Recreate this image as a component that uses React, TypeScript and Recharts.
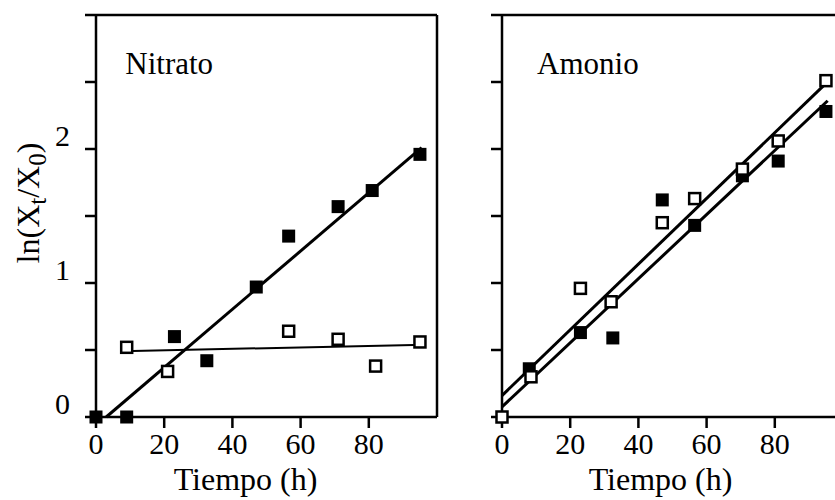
import { ComposedChart, XAxis, YAxis, Line, Scatter, ReferenceLine, ReferenceDot } from 'recharts';

// Nitrato panel
const hoursNitratoFilled = [0, 9, 23, 32.5, 47, 56.5, 71, 81, 95];
const lnNitratoFilled = [0, 0, 0.6, 0.42, 0.97, 1.35, 1.57, 1.69, 1.96];
const hoursNitratoOpen = [9, 21, 56.5, 71, 82, 95];
const lnNitratoOpen = [0.52, 0.34, 0.64, 0.58, 0.38, 0.56];
const fitNitratoFilledX = [3, 95.5];
const fitNitratoFilledY = [0, 2.01];
const fitNitratoOpenX = [7.5, 96.5];
const fitNitratoOpenY = [0.49, 0.54];

// Amonio panel
const hoursAmonioFilled = [8, 23, 32.5, 47, 56.5, 70.5, 81, 95];
const lnAmonioFilled = [0.36, 0.63, 0.59, 1.62, 1.43, 1.8, 1.91, 2.28];
const hoursAmonioOpen = [0, 8.5, 23, 32, 47, 56.5, 70.5, 81, 95];
const lnAmonioOpen = [0, 0.3, 0.96, 0.86, 1.45, 1.63, 1.85, 2.06, 2.51];
const fitAmonioFilledX = [0, 95.5];
const fitAmonioFilledY = [0.075, 2.36];
const fitAmonioOpenX = [0, 95];
const fitAmonioOpenY = [0.16, 2.49];

const xTicks = [0, 20, 40, 60, 80];
const yTicks = [0, 0.5, 1, 1.5, 2, 2.5, 3];
const yLabelled = [0, 1, 2];

const FONT = "'Liberation Serif', 'Times New Roman', serif";

const toPoints = (xs: number[], ys: number[]) => xs.map((x, i) => ({ x, y: ys[i] }));

function FilledSquare(p: any) {
  if (p.cx == null) return <g />;
  return <rect x={p.cx - 6.5} y={p.cy - 6.5} width={13} height={13} fill="#000" />;
}

function OpenSquare(p: any) {
  if (p.cx == null) return <g />;
  return <rect x={p.cx - 5.5} y={p.cy - 5.5} width={11} height={11} fill="#fff" stroke="#000" strokeWidth={2.5} />;
}

function YTick({ x, y, payload, show }: any) {
  if (!show || !yLabelled.includes(payload.value)) return <g />;
  return (
    <text x={x} y={y - 14} textAnchor="end" dominantBaseline="central" fontFamily={FONT} fontSize={30} fill="#000">
      {payload.value}
    </text>
  );
}

function XTitle({ viewBox, shift }: any) {
  const cx = viewBox.x + viewBox.width / 2 + shift;
  return (
    <text x={cx} y={490} textAnchor="middle" fontFamily={FONT} fontSize={32} fill="#000">
      Tiempo (h)
    </text>
  );
}

function YTitle({ viewBox }: any) {
  const x = viewBox.x + 39;
  const y = 203;
  return (
    <text x={x} y={y} textAnchor="middle" fontFamily={FONT} fontSize={32} fill="#000" transform={`rotate(-90, ${x}, ${y})`}>
      ln(X<tspan dy={7} fontSize={25}>t</tspan>
      <tspan dy={-7}>/X</tspan>
      <tspan dy={7} fontSize={25}>0</tspan>
      <tspan dy={-7}>)</tspan>
    </text>
  );
}

interface PanelProps {
  title: string;
  titleX: number;
  filled: { x: number; y: number }[];
  open: { x: number; y: number }[];
  filledFit: { x: number; y: number }[];
  openFit: { x: number; y: number }[];
  openFitWidth: number;
  yAxisWidth: number;
  marginRight: number;
  showYLabels: boolean;
  titleShift: number;
  rightBorder: boolean;
}

function Panel(props: PanelProps) {
  const axisStyle = { stroke: '#000', strokeWidth: 2.5 };
  return (
    <ComposedChart width={460} height={500} margin={{ top: 15, right: props.marginRight, bottom: 0, left: 0 }}>
      <XAxis
        type="number"
        dataKey="x"
        domain={[0, 100]}
        ticks={xTicks}
        tickSize={11}
        tickMargin={5}
        height={83}
        axisLine={axisStyle}
        tickLine={axisStyle}
        tick={{ fill: '#000', fontSize: 30, fontFamily: FONT }}
        label={<XTitle shift={props.titleShift} />}
      />
      <YAxis
        type="number"
        dataKey="y"
        domain={[0, 3]}
        ticks={yTicks}
        width={props.yAxisWidth}
        tickSize={11}
        tickMargin={15}
        axisLine={axisStyle}
        tickLine={axisStyle}
        tick={<YTick show={props.showYLabels} />}
        label={props.showYLabels ? <YTitle /> : undefined}
      />
      <ReferenceLine y={3} stroke="#000" strokeWidth={2.5} />
      {props.rightBorder && <ReferenceLine x={100} stroke="#000" strokeWidth={2.5} />}
      <Line data={props.filledFit} dataKey="y" type="linear" stroke="#000" strokeWidth={3} dot={false} isAnimationActive={false} />
      <Line data={props.openFit} dataKey="y" type="linear" stroke="#000" strokeWidth={props.openFitWidth} dot={false} isAnimationActive={false} />
      <Scatter data={props.filled} dataKey="y" shape={FilledSquare} isAnimationActive={false} />
      <Scatter data={props.open} dataKey="y" shape={OpenSquare} isAnimationActive={false} />
      <ReferenceDot
        x={props.titleX}
        y={2.56}
        r={0}
        shape={(p: any) => (
          <text x={p.cx} y={p.cy} fontFamily={FONT} fontSize={31} fill="#000">
            {props.title}
          </text>
        )}
      />
    </ComposedChart>
  );
}

export default function App() {
  return (
    <div style={{ position: 'absolute', left: 0, top: 0, width: 835, height: 500, overflow: 'hidden', background: '#fff' }}>
      <div style={{ position: 'absolute', left: 0, top: 0 }}>
        <Panel
          title="Nitrato"
          titleX={8.6}
          filled={toPoints(hoursNitratoFilled, lnNitratoFilled)}
          open={toPoints(hoursNitratoOpen, lnNitratoOpen)}
          filledFit={toPoints(fitNitratoFilledX, fitNitratoFilledY)}
          openFit={toPoints(fitNitratoOpenX, fitNitratoOpenY)}
          openFitWidth={2}
          yAxisWidth={96}
          marginRight={23}
          showYLabels
          titleShift={-21}
          rightBorder
        />
      </div>
      <div style={{ position: 'absolute', left: 420, top: 0 }}>
        <Panel
          title="Amonio"
          titleX={10.3}
          filled={toPoints(hoursAmonioFilled, lnAmonioFilled)}
          open={toPoints(hoursAmonioOpen, lnAmonioOpen)}
          filledFit={toPoints(fitAmonioFilledX, fitAmonioFilledY)}
          openFit={toPoints(fitAmonioOpenX, fitAmonioOpenY)}
          openFitWidth={3}
          yAxisWidth={82}
          marginRight={37}
          showYLabels={false}
          titleShift={-12}
          rightBorder={false}
        />
      </div>
    </div>
  );
}
